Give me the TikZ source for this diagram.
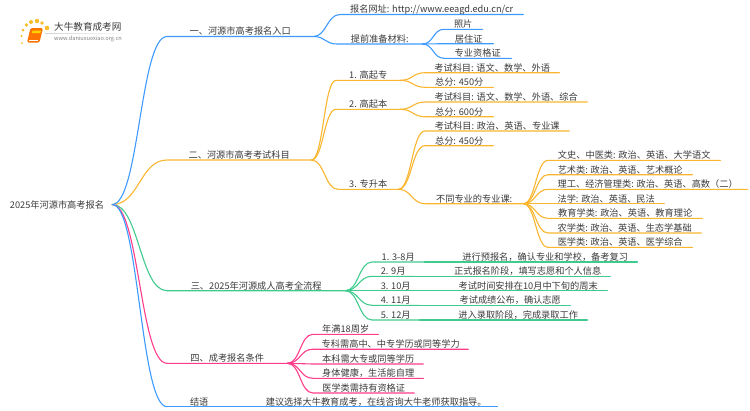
\documentclass[tikz,border=0pt]{standalone}
\usepackage{fontspec}
\setmainfont{Noto Sans CJK SC}
\usetikzlibrary{positioning}
\definecolor{lineBlue}{HTML}{3D9BFF}
\definecolor{lineOrange}{HTML}{F9B62E}
\definecolor{lineGreen}{HTML}{3FCB8E}
\definecolor{linePink}{HTML}{FF3D8B}
\definecolor{textGrey}{HTML}{3A3A3A}
\tikzset {
    style topic/.style={
        anchor=south west,
        inner sep=0pt,
        text height=8pt,
        text depth=1.5pt,
        minimum width=#1pt,
        align=center,
        color=textGrey,
        font=\fontsize{9.2}{11}\selectfont,
    },
    style root/.style={
        inner xsep=8pt,
        inner ysep=0pt,
        color=textGrey,
        font=\fontsize{9.2}{11}\selectfont,
    },
    style link/.style={
        line width=1.1pt,
        line cap=round,
    },
}

\begin{document}
\begin{tikzpicture}[x=1pt, y=-1pt]
    \useasboundingbox (0,0) rectangle (750,410);

    % logo
    \foreach \px/\py/\pr in {22/43/1, 21.5/36/1.2, 23/30/1.5, 26.5/25/1.8, 31/22/2, 37/21/2.2, 42/23/1.8, 47/28/2.3}
        \fill[lineOrange!90!yellow] (\px,\py) circle (\pr);
    \fill[orange!90!red, rounded corners=1.5pt] (30.5,28) -- (43,28) -- (39.5,42.5) -- (27,42.5) -- cycle;
    \fill[yellow!70!orange] (32.5,30.5) -- (41,30.5) -- (40.4,33) -- (31.9,33) -- cycle;
    \draw[white, line width=0.6pt] (28.5,40.5) -- (38,40.5);
    \shade[left color=gray!35, right color=white] (45,33) rectangle (132,33.6);
    \node[inner sep=0pt, anchor=west, color=textGrey, font=\fontsize{9.6}{11}\selectfont] (brand) at (54,27) {大牛教育成考网};
    \node[inner sep=0pt, anchor=west, color=gray, font=\fontsize{5.6}{6}\selectfont] (site) at (54,38.7) {www.daniuxuexiao.org.cn};

    \node[style root] (root) at (57,204.5) {2025年河源市高考报名};

    % level 1
    \node[style topic=146] (n1) at (167,36.5) {一、河源市高考报名入口};
    \node[style topic=144] (n2) at (167,160) {二、河源市高考考试科目};
    \node[style topic=178] (n3) at (167,290.7) {三、2025年河源成人高考全流程};
    \node[style topic=120] (n4) at (167,363.3) {四、成考报名条件};
    \node[style topic=64] (n5) at (167,406.7) {结语};
    \node[style topic=242] (n5a) at (255,406.7) {建议选择大牛教育成考，在线咨询大牛老师获取指导。};

    % first branch
    \node[style topic=183] (a1) at (340,14.5) {报名网址: http://www.eeagd.edu.cn/cr};
    \node[style topic=85] (a2) at (337,44) {提前准备材料:};
    \node[style topic=38] (a21) at (444,29.3) {照片};
    \node[style topic=49] (a22) at (444,43.7) {居住证};
    \node[style topic=67] (a23) at (444,58.3) {专业资格证};

    % second branch
    \node[style topic=64] (b1) at (336,80.3) {1. 高起专};
    \node[style topic=64] (b2) at (336,109.3) {2. 高起本};
    \node[style topic=60] (b3) at (338,189.3) {3. 专升本};
    \node[style topic=134] (b11) at (425,72.7) {考试科目: 语文、数学、外语};
    \node[style topic=68] (b12) at (425,87.3) {总分: 450分};
    \node[style topic=162] (b21) at (425,102) {考试科目: 语文、数学、外语、综合};
    \node[style topic=68] (b22) at (425,116.7) {总分: 600分};
    \node[style topic=144] (b31) at (425,131) {考试科目: 政治、英语、专业课};
    \node[style topic=68] (b32) at (425,145.7) {总分: 450分};
    \node[style topic=98] (b33) at (425,203.7) {不同专业的专业课:};
    \node[style topic=172] (c1) at (548,160.3) {文史、中医类: 政治、英语、大学语文};
    \node[style topic=144] (c2) at (548,174.7) {艺术类: 政治、英语、艺术概论};
    \node[style topic=199] (c3) at (548,189.3) {理工、经济管理类: 政治、英语、高数（二）};
    \node[style topic=116] (c4) at (548,203.7) {法学: 政治、英语、民法};
    \node[style topic=154] (c5) at (548,218.3) {教育学类: 政治、英语、教育理论};
    \node[style topic=153] (c6) at (548,233) {农学类: 政治、英语、生态学基础};
    \node[style topic=144] (c7) at (548,247.3) {医学类: 政治、英语、医学综合};

    % third branch
    \node[style topic=52] (d1) at (372,262) {1. 3-8月};
    \node[style topic=42] (d2) at (372,276.3) {2. 9月};
    \node[style topic=47] (d3) at (372,290.7) {3. 10月};
    \node[style topic=47] (d4) at (372,305.3) {4. 11月};
    \node[style topic=47] (d5) at (372,320) {5. 12月};
    \node[style topic=184] (e1) at (453,262) {进行预报名，确认专业和学校，备考复习};
    \node[style topic=165] (e2) at (445,276.3) {正式报名阶段，填写志愿和个人信息};
    \node[style topic=158] (e3) at (449,290.7) {考试时间安排在10月中下旬的周末};
    \node[style topic=120] (e4) at (450,305.3) {考试成绩公布，确认志愿};
    \node[style topic=138] (e5) at (449,320) {进入录取阶段，完成录取工作};

    % fourth branch
    \node[style topic=65] (f1) at (313,334.3) {年满18周岁};
    \node[style topic=155] (f2) at (313,349.2) {专科需高中、中专学历或同等学力};
    \node[style topic=110] (f3) at (313,364) {本科需大专或同等学历};
    \node[style topic=110] (f4) at (313,378.3) {身体健康，生活能自理};
    \node[style topic=101] (f5) at (313,393) {医学类需持有资格证};

    % connectors, one loop per colour
    \foreach \from/\to/\bend in {n1/a1/13, n1/a2/12, a2/a21/11, a2/a22/11, a2/a23/11}
        \draw[style link, lineBlue] (\from.south east) .. controls +(\bend,0) and +(-\bend,0) .. (\to.south west) -- (\to.south east);
    \foreach \from/\to/\bend in {n2/b1/12, n2/b2/12, n2/b3/13, b1/b11/12, b1/b12/12, b2/b21/12, b2/b22/12, b3/b31/13, b3/b32/13, b3/b33/13, b33/c1/12, b33/c2/12, b33/c3/12, b33/c4/12, b33/c5/12, b33/c6/12, b33/c7/12}
        \draw[style link, lineOrange] (\from.south east) .. controls +(\bend,0) and +(-\bend,0) .. (\to.south west) -- (\to.south east);
    \foreach \from/\to/\bend in {n3/d1/13, n3/d2/13, n3/d3/13, n3/d4/13, n3/d5/13, d1/e1/9, d2/e2/9, d3/e3/9, d4/e4/9, d5/e5/9}
        \draw[style link, lineGreen] (\from.south east) .. controls +(\bend,0) and +(-\bend,0) .. (\to.south west) -- (\to.south east);
    \foreach \from/\to/\bend in {n4/f1/13, n4/f2/13, n4/f3/13, n4/f4/13, n4/f5/13}
        \draw[style link, linePink] (\from.south east) .. controls +(\bend,0) and +(-\bend,0) .. (\to.south west) -- (\to.south east);
    \draw[style link, lineBlue] (n5.south west) -- (n5.south east) -- (n5a.south west) -- (n5a.south east);

    % main branches
    \draw[style link, lineOrange] (root.east) .. controls +(27,0) and +(-27,0) .. (n2.south west) -- (n2.south east);
    \draw[style link, lineGreen] (root.east) .. controls +(27,0) and +(-27,0) .. (n3.south west) -- (n3.south east);
    \draw[style link, linePink] (root.east) .. controls +(27,0) and +(-27,0) .. (n4.south west) -- (n4.south east);
    \draw[style link, lineBlue] (root.east) .. controls +(27,0) and +(-27,0) .. (n5.south west);
    \draw[style link, lineBlue] (root.east) .. controls +(27,0) and +(-27,0) .. (n1.south west) -- (n1.south east);
\end{tikzpicture}
\end{document}
